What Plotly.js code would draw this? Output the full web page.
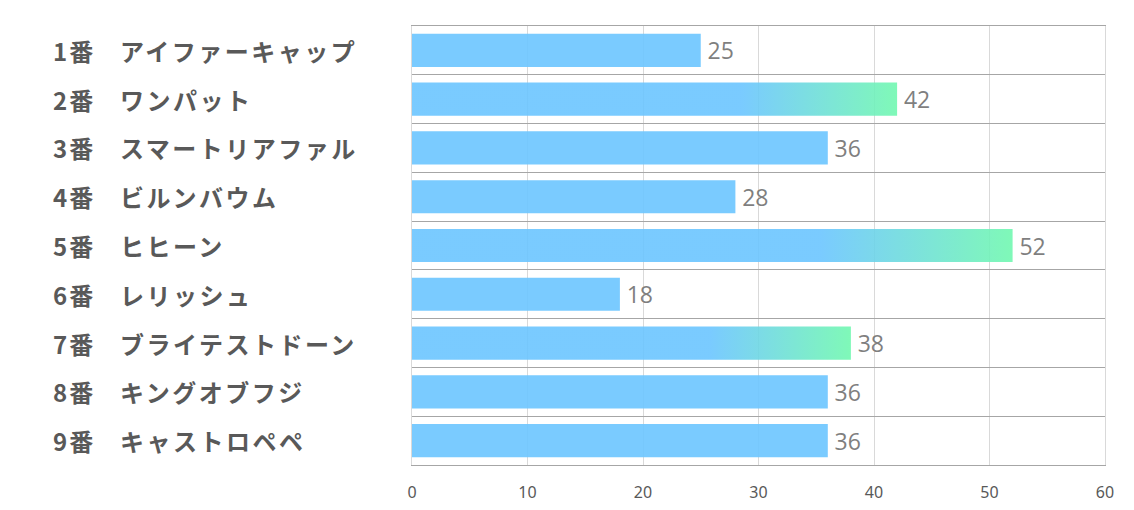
<!DOCTYPE html>
<html>
<head>
<meta charset="utf-8">
<script src="https://cdn.plot.ly/plotly-3.0.1.min.js"></script>
<style>
html,body{margin:0;padding:0;background:#fff;}
#chart{width:1134px;height:510px;}
</style>
</head>
<body>
<div id="chart"></div>
<script>
// ---- data ----
const gateNumbers = ["1番","2番","3番","4番","5番","6番","7番","8番","9番"];
const horseNames = ["アイファーキャップ","ワンパット","スマートリアファル","ビルンバウム","ヒヒーン","レリッシュ","ブライテストドーン","キングオブフジ","キャストロペペ"];
const values = [25, 42, 36, 28, 52, 18, 38, 36, 36];
const highlighted = ["2番","5番","7番"];
const xTicks = [0, 10, 20, 30, 40, 50, 60];

// ---- chart ----
const idx = values.map((_, i) => i);
const barWidth = 0.68;
const blue = 'rgba(107,197,255,0.9)';
const green = 'rgba(113,248,176,0.9)';
const isHi = gateNumbers.map(g => highlighted.includes(g));

const traces = [{
  type: 'bar',
  orientation: 'h',
  x: values,
  y: idx,
  width: barWidth,
  marker: {color: isHi.map(h => h ? 'rgba(0,0,0,0)' : blue), line: {width: 0}},
  text: values.map(v => '\u2009' + v),
  textposition: 'outside',
  cliponaxis: false,
  textfont: {family: 'Open Sans, Noto Sans, sans-serif', size: 23, color: '#7f7f7f'},
  hoverinfo: 'skip'
}];

idx.forEach(i => {
  if (!isHi[i]) return;
  const v = values[i];
  const y0 = i - barWidth / 2, y1 = i + barWidth / 2;
  traces.push({
    type: 'scatter',
    mode: 'lines',
    x: [0, v, v, 0, 0],
    y: [y0, y0, y1, y1, y0],
    fill: 'toself',
    line: {width: 0, color: 'rgba(0,0,0,0)'},
    fillgradient: {type: 'horizontal', colorscale: [[0, blue], [0.68, blue], [1, green]]},
    hoverinfo: 'skip',
    showlegend: false
  });
});

const plotLeft = 412, plotW = 1134 - 412 - 29;
const toPaper = px => (px - plotLeft) / plotW;
const annotations = [];
idx.forEach(i => {
  annotations.push({
    xref: 'paper', yref: 'y', x: toPaper(51), y: i, xanchor: 'left', yanchor: 'middle', align: 'left',
    text: gateNumbers[i], showarrow: false,
    font: {family: 'Noto Sans CJK JP', size: 24, color: '#595959', weight: 'bold'}
  });
  annotations.push({
    xref: 'paper', yref: 'y', x: toPaper(118), y: i, xanchor: 'left', yanchor: 'middle', align: 'left',
    text: horseNames[i], showarrow: false,
    font: {family: 'Noto Sans CJK JP', size: 24, color: '#595959', weight: 'bold'}
  });
});

const yGrid = [];
for (let k = 0; k <= values.length; k++) yGrid.push(k - 0.5);

const layout = {
  width: 1134, height: 510,
  margin: {l: 412, r: 29, t: 26, b: 45},
  paper_bgcolor: '#ffffff', plot_bgcolor: '#ffffff',
  showlegend: false,
  xaxis: {
    range: [0, 60], tickvals: xTicks, ticktext: xTicks.map(String),
    showgrid: true, gridcolor: '#d9d9d9', gridwidth: 1,
    zeroline: false, showline: true, mirror: true, linecolor: '#a6a6a6', linewidth: 1,
    ticks: '', ticklabelstandoff: 13,
    tickfont: {family: 'Liberation Sans Narrow, Noto Sans, sans-serif', size: 16, color: '#595959'},
    fixedrange: true
  },
  yaxis: {
    range: [values.length - 0.5, -0.5], tickvals: yGrid,
    showgrid: true, gridcolor: '#a6a6a6', gridwidth: 1,
    showticklabels: false, zeroline: false,
    showline: true, mirror: true, linecolor: '#d9d9d9', linewidth: 1,
    ticks: '', fixedrange: true
  },
  annotations: annotations,
  bargap: 0.32
};

Plotly.newPlot('chart', traces, layout, {displayModeBar: false, staticPlot: true}).then(() => {
  document.querySelectorAll('g.annotation').forEach(g => {
    const t = g.querySelector('text');
    if (!t) return;
    t.style.letterSpacing = /番/.test(t.textContent) ? '2px' : '2.5px';
  });
});
</script>
</body>
</html>
